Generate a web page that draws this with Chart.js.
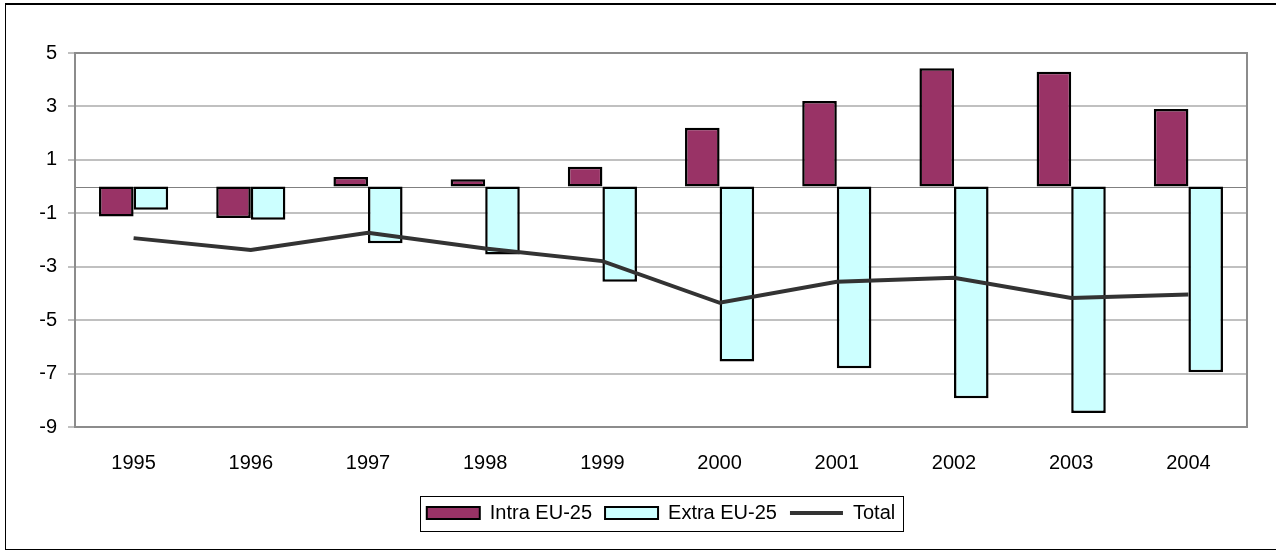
<!DOCTYPE html>
<html>
<head>
<meta charset="utf-8">
<script src="https://cdn.jsdelivr.net/npm/chart.js@4.4.1/dist/chart.umd.min.js"></script>
<style>
  html, body { margin:0; padding:0; background:#fff; overflow:hidden; }
  #wrap { position:relative; width:1276px; height:550px; }
  #frame { position:absolute; left:5px; top:3px; width:1300px; height:544px;
           border-left:1px solid #000; border-bottom:1px solid #000; border-top:2px solid #000; }
  canvas { position:absolute; left:0; top:0; }
</style>
</head>
<body>
<div id="wrap">
  <div id="frame"></div>
  <canvas id="chart" width="1276" height="550"></canvas>
</div>
<script>
// --- dados ---
const years      = ['1995','1996','1997','1998','1999','2000','2001','2002','2003','2004'];
const intraEU25  = [-1.12, -1.18, 0.36, 0.27, 0.74, 2.2, 3.2, 4.43, 4.3, 2.9];
const extraEU25  = [-0.87, -1.24, -2.12, -2.54, -3.56, -6.55, -6.8, -7.92, -8.48, -6.95];
const totalSeries = [-1.93, -2.37, -1.73, -2.32, -2.79, -4.35, -3.56, -3.41, -4.17, -4.04];
const yTicks     = { min:-9, max:5, step:2 };

const FONT = { family:'"Liberation Sans", Arial, sans-serif', size:20 };

// moldura da área de plotagem + linha do zero + borda da legenda
const framePlugin = {
  id:'framePlugin',
  beforeDatasetsDraw(chart){
    const { ctx, chartArea:a, scales:{ y } } = chart;
    const y0 = Math.round(y.getPixelForValue(0)) + 0.5;
    ctx.save();
    ctx.strokeStyle = '#808080'; ctx.lineWidth = 1;
    ctx.beginPath(); ctx.moveTo(a.left, y0); ctx.lineTo(a.right, y0); ctx.stroke();
    ctx.strokeStyle = '#8c8c8c'; ctx.lineWidth = 2;
    ctx.strokeRect(a.left, a.top, a.right - a.left, a.bottom - a.top);
    ctx.restore();
  },
  afterDraw(chart){
    const lg = chart.legend;
    if(!lg || !lg.legendHitBoxes || !lg.legendHitBoxes.length) return;
    const hb = lg.legendHitBoxes;
    const left  = Math.min(...hb.map(h=>h.left)) - 7;
    const right = Math.max(...hb.map(h=>h.left + h.width)) + 8;
    const cy    = hb[0].top + hb[0].height/2;
    const ctx = chart.ctx;
    ctx.save();
    ctx.strokeStyle = '#000'; ctx.lineWidth = 1;
    ctx.strokeRect(Math.round(left)+0.5, Math.round(cy-17)+0.5, Math.round(right-left), 35);
    ctx.restore();
  }
};

new Chart(document.getElementById('chart'), {
  type:'bar',
  data:{
    labels: years,
    datasets:[
      { label:'Intra EU-25', data:intraEU25, backgroundColor:'#993366', borderColor:'#000', borderWidth:2.5, borderSkipped:false, order:1 },
      { label:'Extra EU-25', data:extraEU25, backgroundColor:'#CCFFFF', borderColor:'#000', borderWidth:2.5, borderSkipped:false, order:1 },
      { type:'line', label:'Total', data:totalSeries, borderColor:'#333333', backgroundColor:'#333333',
        borderWidth:4, pointRadius:0, tension:0, order:0 }
    ]
  },
  plugins:[framePlugin],
  options:{
    responsive:false,
    animation:false,
    layout:{ padding:{ left:0, top:53, right:29, bottom:17 } },
    datasets:{ bar:{ categoryPercentage:0.59, barPercentage:1 } },
    plugins:{
      title:{ display:false },
      tooltip:{ enabled:false },
      legend:{
        position:'bottom',
        fullSize:false,
        labels:{
          font:FONT, color:'#000', padding:13,
          usePointStyle:true, pointStyleWidth:53, boxHeight:12,
          generateLabels(chart){
            return chart.data.datasets.map((ds,i)=>({
              text: ds.label,
              fillStyle: ds.backgroundColor,
              strokeStyle: ds.type==='line' ? '#333333' : '#000',
              lineWidth: ds.type==='line' ? 4 : 2,
              pointStyle: ds.type==='line' ? 'line' : 'rect',
              fontColor:'#000',
              hidden:false,
              datasetIndex:i
            }));
          }
        }
      }
    },
    scales:{
      x:{
        grid:{ display:false },
        border:{ display:false },
        ticks:{ font:FONT, color:'#000', padding:16, maxRotation:0 },
        afterFit(s){ s.height = 63; }
      },
      y:{
        min:yTicks.min, max:yTicks.max,
        ticks:{ stepSize:yTicks.step, font:FONT, color:'#000', padding:11 },
        grid:{ color:'#c0c0c0', lineWidth:2, tickLength:7, tickColor:'#c0c0c0', tickWidth:2 },
        border:{ display:false },
        afterFit(s){ s.width = 75; }
      }
    }
  }
});
</script>
</body>
</html>
